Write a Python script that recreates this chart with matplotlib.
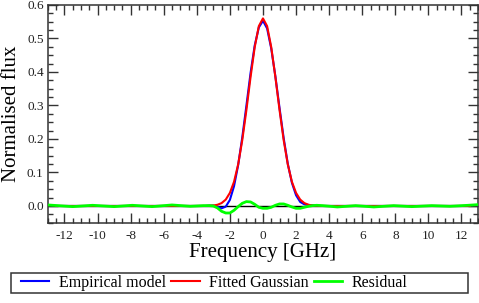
import numpy as np
import matplotlib.pyplot as plt
from matplotlib.patches import Rectangle
from matplotlib.ticker import MultipleLocator, FormatStrFormatter

plt.rcParams['font.family'] = ['Liberation Serif', 'DejaVu Serif']
plt.rcParams['axes.unicode_minus'] = False

# frequency grid of the model curves [GHz]
freq = [-12.5, -3.5, -3.25, -3.0, -2.75, -2.5, -2.25, -2.0, -1.75, -1.5, -1.25, -1.0,
        -0.75, -0.5, -0.25, 0.0, 0.25, 0.5, 0.75, 1.0, 1.25, 1.5, 1.75, 2.0,
        2.25, 2.5, 2.75, 3.0, 3.25, 3.5, 12.5]
fitted = [0.0, 0.0, 0.0005, 0.0014, 0.0036, 0.0086, 0.019, 0.039, 0.072, 0.124, 0.197, 0.287,
          0.385, 0.474, 0.537, 0.560, 0.537, 0.474, 0.385, 0.287, 0.197, 0.124, 0.072, 0.039,
          0.019, 0.0086, 0.0036, 0.0014, 0.0005, 0.0, 0.0]
empirical = [0.0, 0.0, 0.001, 0.001, -0.002, -0.007, -0.002, 0.018, 0.059, 0.122, 0.205, 0.300,
             0.397, 0.479, 0.533, 0.553, 0.530, 0.470, 0.387, 0.293, 0.203, 0.126, 0.069, 0.032,
             0.012, 0.005, 0.003, 0.002, 0.001, 0.0, 0.0]

# residual sampled on its own grid
res_freq = [-13.0, -12.4, -11.5, -10.3, -9.0, -7.9, -6.7, -5.5, -4.4, -3.6, -3.25,
            -3.0, -2.75, -2.5, -2.25, -2.0, -1.75, -1.5, -1.25, -1.0, -0.75, -0.5, -0.25,
            0.0, 0.25, 0.5, 0.75, 1.0, 1.25, 1.5, 1.75, 2.0, 2.25, 2.5, 2.75, 3.0,
            3.25, 3.6, 4.5, 5.6, 6.7, 7.9, 9.0, 10.2, 11.3, 12.4, 13.0]
residual = [0.003, 0.001, -0.002, 0.002, -0.002, 0.002, -0.002, 0.003, -0.001, 0.001, 0.001,
            0.0, -0.006, -0.016, -0.021, -0.021, -0.013, -0.002, 0.008, 0.013, 0.012, 0.005, -0.004,
            -0.007, -0.007, -0.004, 0.002, 0.006, 0.006, 0.002, -0.003, -0.007, -0.007, -0.004, -0.001, 0.001,
            0.002, 0.001, -0.003, 0.001, -0.003, 0.001, -0.002, 0.001, -0.001, 0.002, 0.004]

fig = plt.figure(figsize=(4.79, 3.03), dpi=100)
ax = fig.add_axes([0.100, 0.265, 0.898, 0.7185])

ax.axhline(0, color='black', lw=1, zorder=1)
ax.plot(freq, empirical, color='#0000ff', lw=1.5, label='Empirical model', zorder=2)
ax.plot(freq, fitted, color='#ff0000', lw=1.5, label='Fitted Gaussian', zorder=3)
ax.plot(res_freq, residual, color='#00ff00', lw=2, label='Residual', zorder=4)

ax.set_xlim(-13, 13)
ax.set_ylim(-0.05, 0.6)
ax.xaxis.set_major_locator(MultipleLocator(2))
ax.xaxis.set_minor_locator(MultipleLocator(0.5))
ax.yaxis.set_major_locator(MultipleLocator(0.1))
ax.yaxis.set_minor_locator(MultipleLocator(0.025))
ax.yaxis.set_major_formatter(FormatStrFormatter('%.1f'))

ax.tick_params(which='both', direction='in', top=True, right=True, color='#333333',
               labelsize=9.5, labelcolor='#222222', width=1)
ax.tick_params(which='major', length=7)
ax.tick_params(which='minor', length=3.5)
ax.tick_params(axis='y', pad=3)
ax.tick_params(axis='x', pad=5)
for s in ax.spines.values():
    s.set_color('#333333')
    s.set_linewidth(1.1)

ax.set_xlabel('Frequency [GHz]', fontsize=15, labelpad=1)
ax.set_ylabel('Normalised flux', fontsize=15, labelpad=4)

fig.legend(loc='center left', bbox_to_anchor=(0.043, 0.067), ncol=3, frameon=False,
           fontsize=11.5, handlelength=1.8, handletextpad=0.6, columnspacing=0.3,
           borderpad=0, borderaxespad=0)
fig.patches.append(Rectangle((0.023, 0.033), 0.954, 0.067, transform=fig.transFigure,
                             fill=False, edgecolor='#333333', lw=1.1))

fig.savefig('out.png', dpi=100)
